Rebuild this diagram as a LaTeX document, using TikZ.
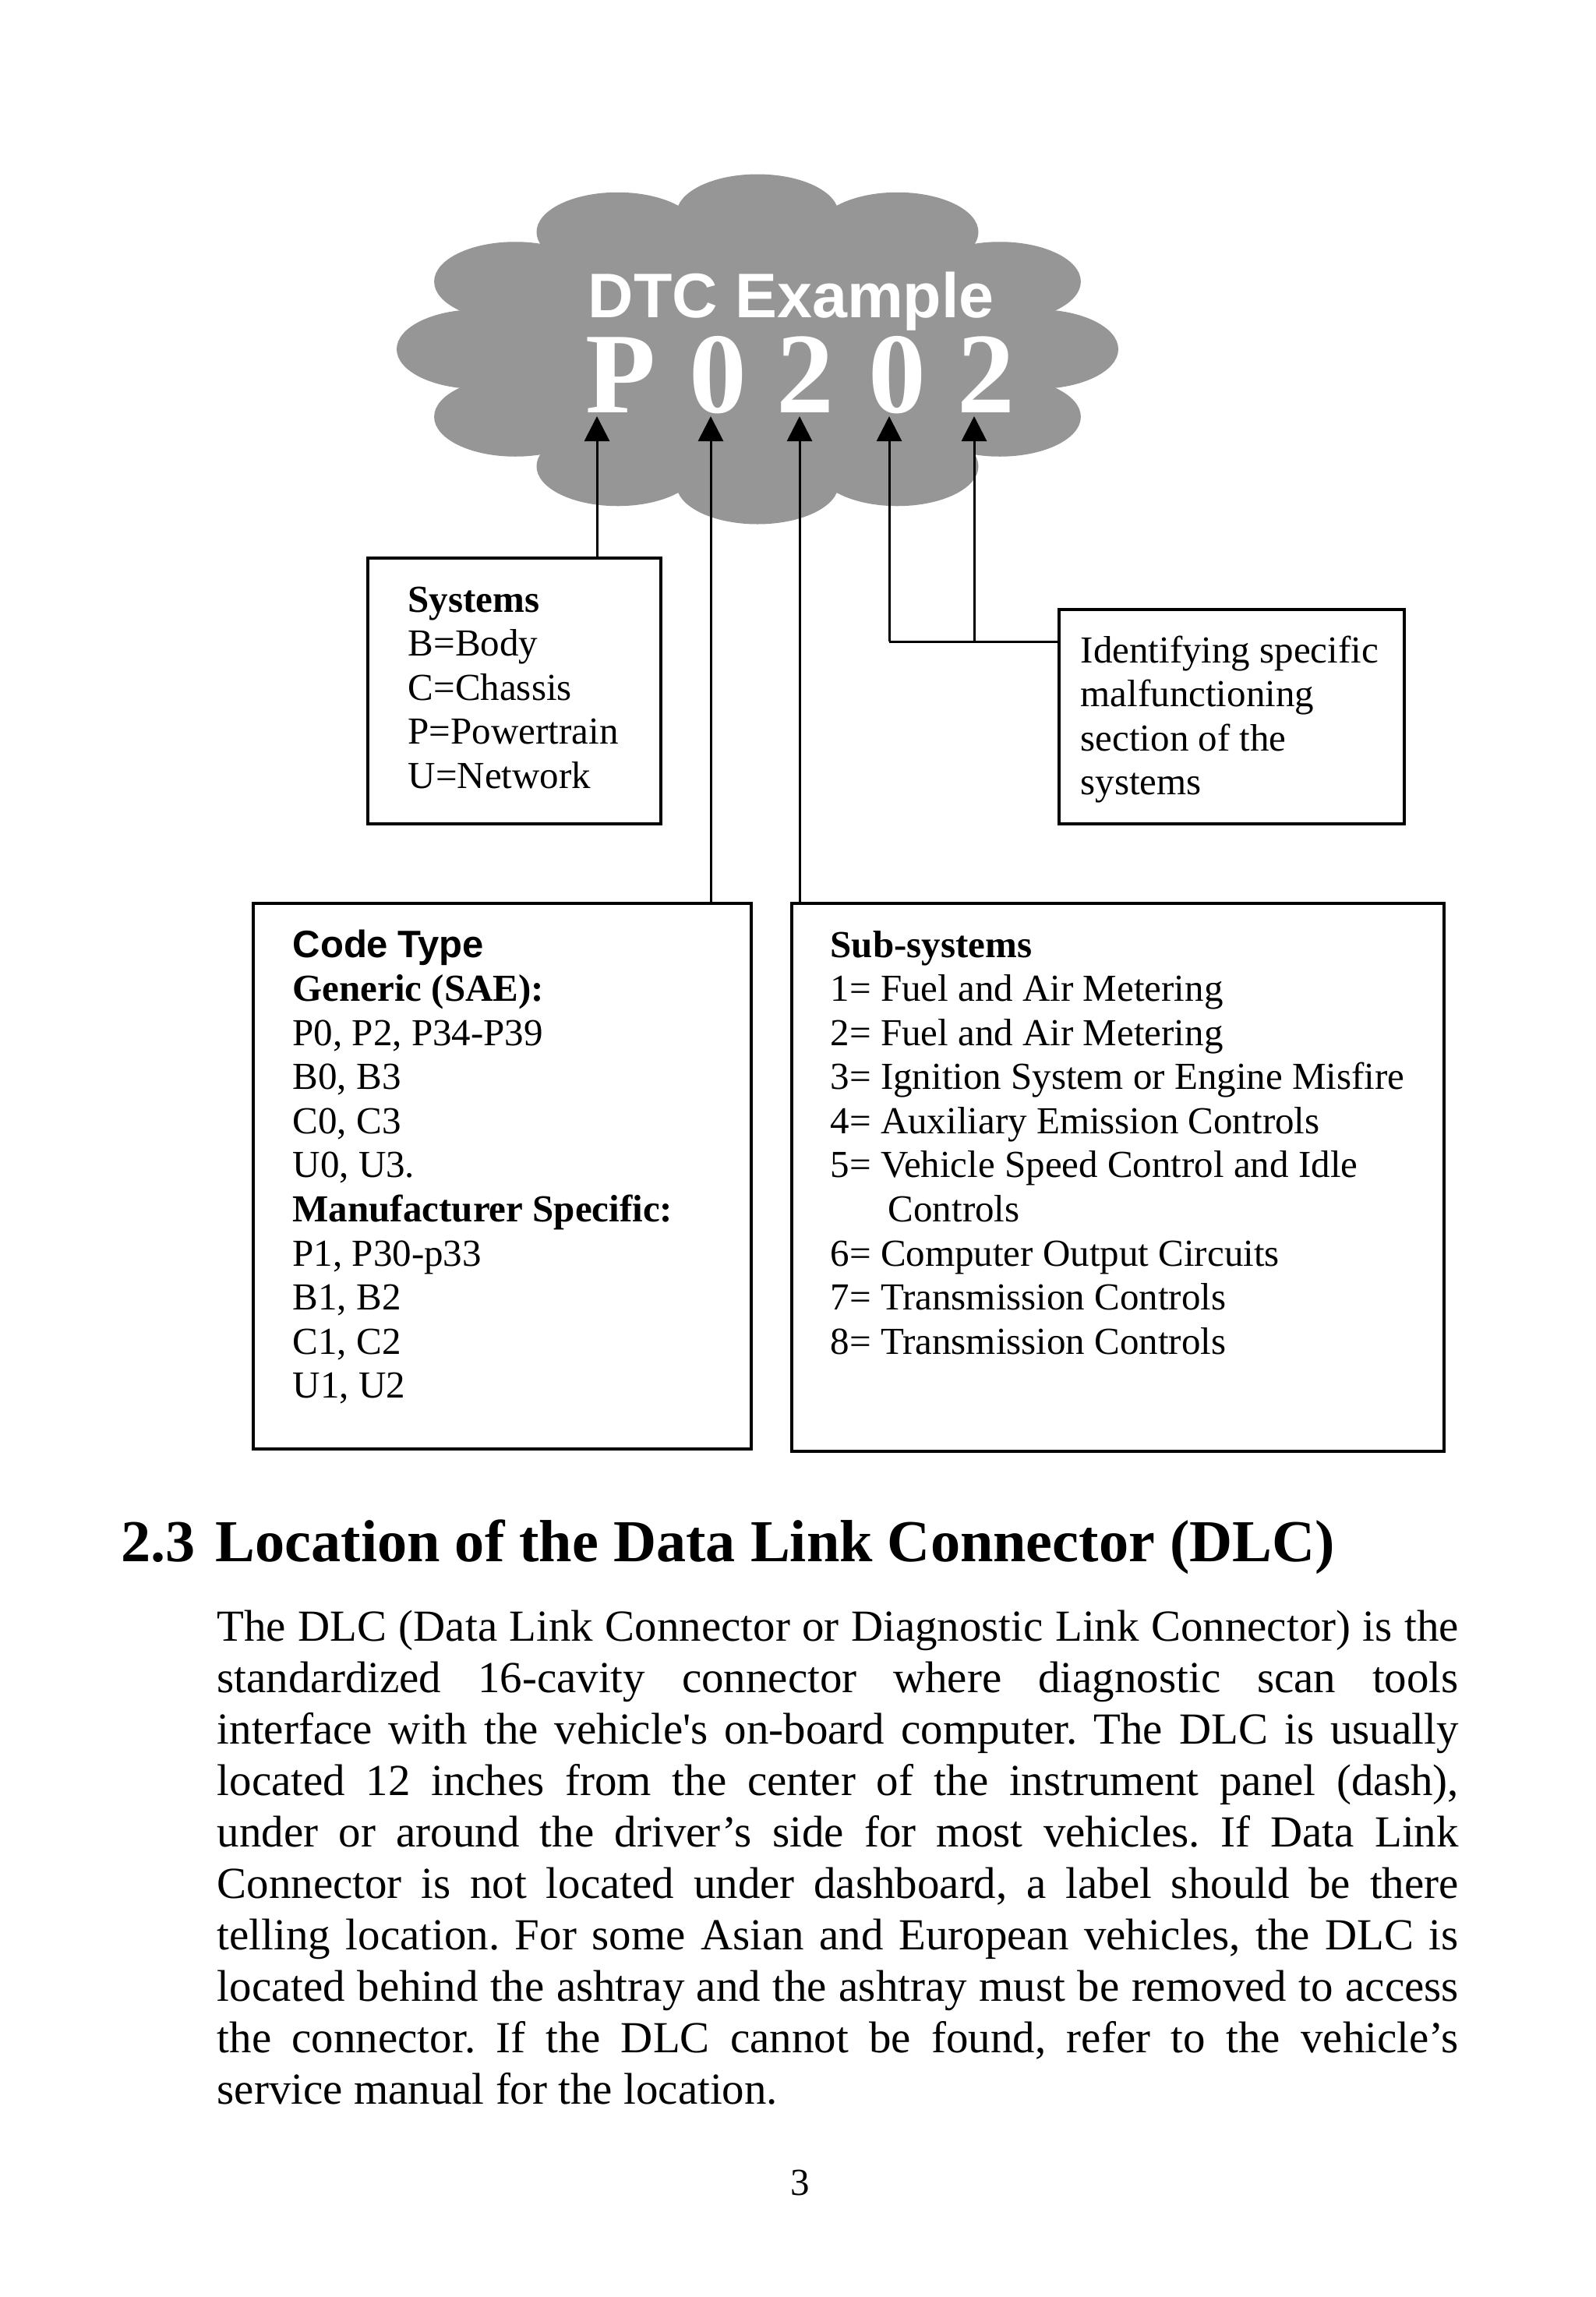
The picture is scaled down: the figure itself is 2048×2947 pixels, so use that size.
\documentclass[tikz,border=0pt]{standalone}
\usepackage{fontspec}
\setmainfont{Liberation Serif}
\setsansfont{Liberation Sans}
\usetikzlibrary{arrows.meta}
\definecolor{cloudgray}{RGB}{150,150,150}
\frenchspacing
\protected\def\boxfont{\fontsize{13.94}{16.1}\selectfont}

\begin{document}
\begin{tikzpicture}[x=0.1mm, y=-0.1mm,
  box/.style={draw=black, line width=0.35mm, anchor=north west, inner sep=0pt},
  arr/.style={line width=0.3mm, -{Triangle[length=3.2mm, width=3.2mm]}},
  boxtext/.style={anchor=base west, inner sep=0pt, align=left, font=\boxfont,
    execute at begin node={\spaceskip=0.25em plus 0.1em\relax}}]
\useasboundingbox (0,0) rectangle (2048,2947);

% the cloud
\fill[cloudgray] (972,448) ellipse (359 and 173.5);
\foreach \a in {0,30,...,330}
  \fill[cloudgray, shift={(972,448)}] (\a:359 and 173.5) ellipse (104 and 51);

\node[anchor=base west, inner sep=0pt, text depth=0pt, text=white, font=\sffamily\bfseries\fontsize{23}{27}\selectfont] (dtc) at (754,407) {DTC Example};
\foreach \glyph/\x [count=\i] in {P/797,0/921,2/1033,0/1151,2/1265}
  \node[anchor=base, inner sep=0pt, text=white, font=\bfseries\fontsize{42}{46}\selectfont] (ch\i) at (\x,529) {\glyph};

\coordinate (tipP) at (766,534);
\coordinate (tip0a) at (912,534);
\coordinate (tip2a) at (1026,534);
\coordinate (tip0b) at (1141,534);
\coordinate (tip2b) at (1250,534);

% boxes
\node[box, minimum width=37.6mm, minimum height=34.1mm] (sysbox) at (470,714) {};
\node[boxtext, text width=30mm] (systxt) at (523,785) {\textbf{Systems}\\B=Body\\C=Chassis\\P=Powertrain\\U=Network};

\node[box, minimum width=44.3mm, minimum height=27.5mm] (idbox) at (1357,780) {};
\node[boxtext, text width=41mm] (idtxt) at (1386,850) {Identifying specific\\malfunctioning\\section of the\\systems};

\node[box, minimum width=63.9mm, minimum height=70.0mm] (codebox) at (323,1157) {};
\node[boxtext, text width=55mm] (codetxt) at (375,1228) {{\sffamily\bfseries Code Type}\\\textbf{Generic (SAE):}\\P0, P2, P34-P39\\B0, B3\\C0, C3\\U0, U3.\\\textbf{Manufacturer Specific:}\\P1, P30-p33\\B1, B2\\C1, C2\\U1, U2};

\node[box, minimum width=83.7mm, minimum height=70.3mm] (subbox) at (1014,1157) {};
\node[boxtext, text width=78mm] (subtxt) at (1065,1228) {\textbf{Sub-systems}\\1= Fuel and Air Metering\\2= Fuel and Air Metering\\3= Ignition System or Engine Misfire\\4= Auxiliary Emission Controls\\5= Vehicle Speed Control and Idle\\\hspace*{7.4mm}Controls\\6= Computer Output Circuits\\7= Transmission Controls\\8= Transmission Controls};

% connectors
\draw[arr] (sysbox.north -| tipP) -- (tipP);
\draw[arr] (codebox.north -| tip0a) -- (tip0a);
\draw[arr] (subbox.north -| tip2a) -- (tip2a);
\coordinate (knee) at (1141,823);
\draw[arr] (knee) -- (tip0b);
\draw[arr] (knee -| tip2b) -- (tip2b);
\draw[line width=0.3mm] (knee) -- (knee -| idbox.west);

% section text
\node[anchor=base west, inner sep=0pt, font=\bfseries\fontsize{21.7}{26}\selectfont] (secnum) at (155,2003) {2.3};
\node[anchor=base west, inner sep=0pt, font=\bfseries\fontsize{21.7}{26}\selectfont] (sectitle) at (276,2003) {Location of the Data Link Connector (DLC)};
\node[anchor=base west, inner sep=0pt, text width=159.3mm, align=justify, font=\fontsize{16.2}{18.8}\selectfont] (dlcpara) at (278,2105) {The DLC (Data Link Connector or Diagnostic Link Connector) is the\linebreak
standardized 16-cavity connector where diagnostic scan tools\linebreak
interface with the vehicle\textquotesingle s on-board computer. The DLC is usually\linebreak
located 12 inches from the center of the instrument panel (dash),\linebreak
under or around the driver’s side for most vehicles. If Data Link\linebreak
Connector is not located under dashboard, a label should be there\linebreak
telling location. For some Asian and European vehicles, the DLC is\linebreak
located behind the ashtray and the ashtray must be removed to access\linebreak
the connector. If the DLC cannot be found, refer to the vehicle’s\linebreak
service manual for the location.};

\node[anchor=base, inner sep=0pt, font=\fontsize{13.94}{16}\selectfont] (pagenum) at (1027,2816) {3};
\end{tikzpicture}
\end{document}
